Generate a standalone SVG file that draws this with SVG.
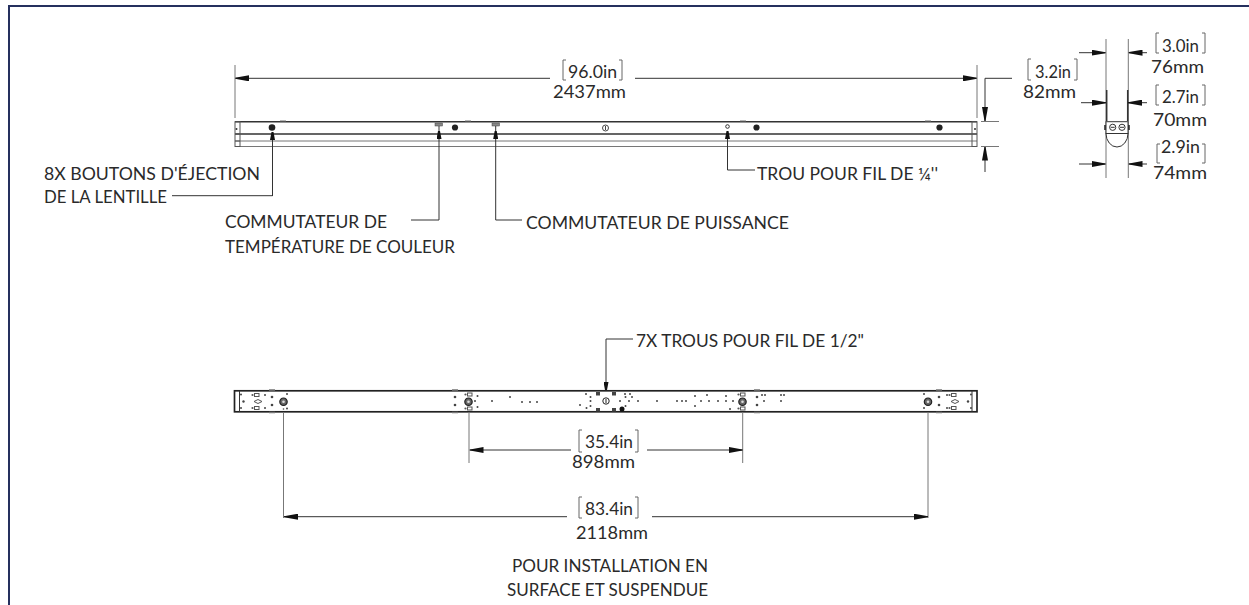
<svg xmlns="http://www.w3.org/2000/svg" width="1249" height="605" viewBox="0 0 1249 605">
<style>
text{font-family:"Lato","Liberation Sans",sans-serif;font-size:16.500px;fill:#2a2a2a}
.d{font-size:18px}
.l{fill:none;stroke:#333;stroke-width:1}
.br{fill:none;stroke:#666;stroke-width:1}
.b{fill:none;stroke:#333;stroke-width:1.500}
.t{fill:none;stroke:#777;stroke-width:1}
.k{fill:none;stroke:#333;stroke-width:1}
.f{fill:#222}
.g{fill:#444}
.e{fill:none;stroke:#777;stroke-width:1}
</style>
<defs>
<marker id="a" viewBox="0 0 14 6" refX="14" refY="3" markerWidth="14" markerHeight="6" markerUnits="userSpaceOnUse" orient="auto"><path d="M0 0L14 2.500V3.500L0 6z" fill="#111"/></marker>
<marker id="c" viewBox="0 0 8 5" refX="8" refY="2.500" markerWidth="8" markerHeight="5" markerUnits="userSpaceOnUse" orient="auto"><path d="M0 0L8 1.500V3.500L0 5z" fill="#111"/></marker>
<g id="screw"><circle r="3.700" fill="#666" stroke="#222" stroke-width="1.200"/><circle r="1.300" fill="#ddd"/></g>
<g id="plate"><circle cx="-3.500" r="1.100" fill="#555"/><rect x="-1.500" y="-1.500" width="4.500" height="3" fill="none" stroke="#555"/></g>
</defs>
<rect width="1249" height="605" fill="#fff"/>
<path id="frame" d="M9 605V6H1249" fill="none" stroke="#25305e" stroke-width="2"/>
<g id="fixture-side">
<path class="b" d="M235 121.700H977M235 134H977"/>
<path class="t" d="M235 141H977M235 146.500H977"/>
<rect x="235" y="121.700" width="5" height="24.800" fill="none" stroke="#555"/>
<path d="M235 134H240M235 141H240" stroke="#555"/>
<rect x="972" y="121.700" width="5" height="24.800" fill="none" stroke="#555"/>
<circle cx="236.500" cy="129" r="1" fill="#333"/><circle cx="975" cy="129" r="1" fill="#333"/>
<path stroke="#999" d="M280 120.800h6M465 120.800h6M740 120.800h6M925 120.800h6"/>
<circle cx="272" cy="127.500" r="3.300" class="f"/><circle cx="455" cy="127.500" r="3.100" class="f"/><circle cx="756.500" cy="127.500" r="3.100" class="f"/><circle cx="939.500" cy="127.500" r="3.100" class="f"/>
<circle cx="605.500" cy="128" r="3" fill="none" stroke="#444"/><path d="M605.500 126v4" stroke="#444"/>
<rect x="435" y="123" width="7.500" height="3" fill="#888" stroke="#444" stroke-width=".5"/><rect x="492" y="123" width="7.500" height="3" fill="#888" stroke="#444" stroke-width=".5"/>
<path stroke="#333" d="M439 126V131M495.700 126V131"/>
<circle cx="727.500" cy="126.500" r="1.800" fill="none" stroke="#333"/>
</g>
<g id="fixture-end">
<path class="e" d="M1106 39V178M1128.300 39V178"/>
<path class="b" d="M1106.700 90V121M1127.700 90V121"/>
<rect x="1106" y="121.700" width="22" height="11.800" fill="#fff" stroke="#333"/>
<path d="M1106 133.500A11 13.500 0 0 0 1128 133.500z" fill="#fff" stroke="#333"/>
<circle cx="1112.700" cy="127.300" r="3.100" fill="none" stroke="#333"/><circle cx="1122" cy="127.300" r="3.100" fill="none" stroke="#333"/>
<path d="M1110.700 127.300h4M1120 127.300h4" stroke="#333"/>
<path stroke="#222" stroke-width="1.500" d="M1105 125v5M1129 125v5"/>
</g>
<g id="fixture-top">
<rect x="234.500" y="390.800" width="742.500" height="21" fill="none" stroke="#222" stroke-width="1.700"/>
<path class="k" d="M239.500 390.800V411.800M972 390.800V411.800"/>
<g class="g">
<circle cx="241" cy="394.500" r="1"/><circle cx="241" cy="408" r="1"/><circle cx="243.500" cy="401.500" r="1.200"/><circle cx="265" cy="395" r="1"/><circle cx="265" cy="408" r="1"/><circle cx="272" cy="397" r="1.300"/><circle cx="272" cy="405" r="1.300"/><circle cx="287" cy="394" r="1"/><circle cx="283.500" cy="409" r=".8"/><circle cx="287" cy="408.500" r="1"/>
<circle cx="455" cy="397" r="1.300"/><circle cx="455" cy="405" r="1.300"/><circle cx="477.500" cy="396" r="1"/><circle cx="477.500" cy="407" r="1"/><circle cx="475" cy="401" r="1"/><circle cx="492" cy="401" r="1"/><circle cx="510" cy="397" r="1"/><circle cx="522" cy="402" r="1"/><circle cx="530" cy="402" r="1"/><circle cx="537" cy="402" r="1"/>
<circle cx="586" cy="394" r="1"/><circle cx="590.500" cy="397" r="1"/><circle cx="590.500" cy="401" r="1"/><circle cx="580" cy="405" r="1"/><circle cx="586.500" cy="408" r="1"/><circle cx="590.500" cy="406" r="1"/>
<rect x="596" y="392" width="4" height="3.500"/><rect x="612" y="392" width="4" height="3.500"/><rect x="596" y="408" width="4" height="3.500"/><rect x="612" y="408" width="4" height="3.500"/><circle cx="622" cy="409" r="2.500" fill="#111"/><circle cx="625.500" cy="406" r="1"/>
<circle cx="625" cy="394" r="1"/><circle cx="630" cy="394" r="1"/><circle cx="625.500" cy="397" r="1"/><circle cx="632" cy="397" r="1"/><circle cx="620" cy="401" r="1"/><circle cx="629" cy="401" r="1"/><circle cx="638" cy="401" r="1"/><circle cx="657" cy="401" r="1"/>
<circle cx="677" cy="401" r="1"/><circle cx="682" cy="401" r="1"/><circle cx="686" cy="401" r="1"/><circle cx="695" cy="396" r="1"/><circle cx="695" cy="406" r="1"/><circle cx="701" cy="401" r="1"/><circle cx="707" cy="395" r="1"/><circle cx="709" cy="401" r="1"/><circle cx="718" cy="401" r="1"/><circle cx="726" cy="396" r="1"/><circle cx="726" cy="401" r="1"/><circle cx="730" cy="409" r="1"/><circle cx="733" cy="401" r="1"/>
<circle cx="757" cy="397" r="1.300"/><circle cx="757" cy="405" r="1.300"/><circle cx="762" cy="395" r="1"/><circle cx="765" cy="395" r="1"/><circle cx="764" cy="401" r="1"/><circle cx="781" cy="395" r="1"/><circle cx="784" cy="395" r="1"/><circle cx="781" cy="401" r="1"/>
<circle cx="924" cy="394" r="1"/><circle cx="924" cy="408" r="1"/><circle cx="939" cy="397" r="1.300"/><circle cx="939" cy="405" r="1.300"/><circle cx="947" cy="395" r="1"/><circle cx="947" cy="408" r="1"/><circle cx="968" cy="401.500" r="1.200"/><circle cx="971" cy="394.500" r="1"/><circle cx="971" cy="408" r="1"/>
</g>
<use href="#screw" x="283.500" y="401.700"/><use href="#screw" x="468.500" y="401.700"/><use href="#screw" x="742.500" y="401.700"/><use href="#screw" x="928" y="401.700"/>
<circle cx="606" cy="401" r="3.200" fill="#fff" stroke="#222"/><path d="M606 399v4" stroke="#222"/>
<use href="#plate" x="256" y="395"/><use href="#plate" x="256" y="408"/><use href="#plate" x="469" y="394.500"/><use href="#plate" x="469" y="408.500"/><use href="#plate" x="742" y="394.500"/><use href="#plate" x="742" y="408.500"/><use href="#plate" x="953" y="395"/><use href="#plate" x="953" y="408"/>
<path fill="none" stroke="#555" d="M254 401.500l4-2 4 2-4 2zM951 401.500l4-2 4 2-4 2z"/>
<path stroke="#777" stroke-width="1.500" d="M269 390h6M269 412.500h6M452 390h6M452 412.500h6M754 390h6M754 412.500h6M936 390h6M936 412.500h6"/>
</g>
<g id="connectors">
<g class="l">
<path marker-end="url(#a)" d="M550 78.300H235"/><path marker-end="url(#a)" d="M635 78.300H977"/>
<path class="e" d="M235 65V118M977 65V118"/>
<path marker-end="url(#a)" d="M1012 78.300H985V121"/><path marker-end="url(#a)" d="M985 172V146.500"/><path class="e" d="M981 121.500H999M981 146.500H999"/>
<path marker-end="url(#a)" d="M1079 52.700H1105.500"/><path marker-end="url(#a)" d="M1147 52.700H1128.500"/>
<path marker-end="url(#a)" d="M1081 102.700H1106"/><path marker-end="url(#a)" d="M1147 102.700H1128"/>
<path marker-end="url(#a)" d="M1079 164H1105.500"/><path marker-end="url(#a)" d="M1147 164H1128.500"/>
<path marker-end="url(#c)" d="M272.500 196V132"/><path d="M272.500 195.700H172"/>
<path marker-end="url(#c)" d="M439 220V131"/><path d="M439 220H411"/>
<path marker-end="url(#c)" d="M495.700 220V131"/><path d="M495.700 220H522"/>
<path marker-end="url(#c)" d="M727.500 170V131"/><path d="M727.500 170H755"/>
<path marker-end="url(#c)" d="M606 339V390"/><path d="M606 339H633"/>
<path class="e" d="M283.500 412V518M469 412V463M742.700 412V463M928 412V518"/>
<path marker-end="url(#a)" d="M571 450H469.500"/><path marker-end="url(#a)" d="M647 450H742.500"/>
<path marker-end="url(#a)" d="M567 516.700H284"/><path marker-end="url(#a)" d="M652 516.700H928"/>
</g>
</g>
<g id="labels">
<text x="44" y="180" textLength="216" lengthAdjust="spacingAndGlyphs">8X BOUTONS D'ÉJECTION</text>
<text x="44" y="203" textLength="123" lengthAdjust="spacingAndGlyphs">DE LA LENTILLE</text>
<text x="225" y="228" textLength="162" lengthAdjust="spacingAndGlyphs">COMMUTATEUR DE</text>
<text x="225" y="253" textLength="230" lengthAdjust="spacingAndGlyphs">TEMPÉRATURE DE COULEUR</text>
<text x="526" y="229" textLength="263" lengthAdjust="spacingAndGlyphs">COMMUTATEUR DE PUISSANCE</text>
<text x="757" y="180" textLength="181" lengthAdjust="spacingAndGlyphs">TROU POUR FIL DE ¼''</text>
<text x="636" y="347" textLength="228" lengthAdjust="spacingAndGlyphs">7X TROUS POUR FIL DE 1/2"</text>
<text x="512" y="572" textLength="196" lengthAdjust="spacingAndGlyphs">POUR INSTALLATION EN</text>
<text x="507" y="596" textLength="201" lengthAdjust="spacingAndGlyphs">SURFACE ET SUSPENDUE</text>
<text class="d" x="568" y="78" textLength="49" lengthAdjust="spacingAndGlyphs">96.0in</text><text class="d" x="553" y="98" textLength="73" lengthAdjust="spacingAndGlyphs">2437mm</text>
<path class="br" d="M566 60h-3v20h3M619 60h3v20h-3"/>
<text class="d" x="1035" y="78" textLength="36" lengthAdjust="spacingAndGlyphs">3.2in</text><text class="d" x="1023" y="98" textLength="53" lengthAdjust="spacingAndGlyphs">82mm</text>
<path class="br" d="M1031 59h-3v21h3M1074 59h3v21h-3"/>
<text class="d" x="1162" y="52" textLength="37" lengthAdjust="spacingAndGlyphs">3.0in</text><text class="d" x="1151" y="73" textLength="53" lengthAdjust="spacingAndGlyphs">76mm</text>
<path class="br" d="M1159 33h-3v20h3M1202 33h3v20h-3"/>
<text class="d" x="1162" y="103" textLength="37" lengthAdjust="spacingAndGlyphs">2.7in</text><text class="d" x="1153" y="126" textLength="54" lengthAdjust="spacingAndGlyphs">70mm</text>
<path class="br" d="M1159 85h-3v20h3M1202 85h3v20h-3"/>
<text class="d" x="1161" y="153" textLength="39" lengthAdjust="spacingAndGlyphs">2.9in</text><text class="d" x="1153" y="179" textLength="54" lengthAdjust="spacingAndGlyphs">74mm</text>
<path class="br" d="M1160 144h-3v19h3M1202 144h3v19h-3"/>
<text class="d" x="585" y="448" textLength="48" lengthAdjust="spacingAndGlyphs">35.4in</text><text class="d" x="572" y="468" textLength="63" lengthAdjust="spacingAndGlyphs">898mm</text>
<path class="br" d="M582 430h-3v22h3M635 430h3v22h-3"/>
<text class="d" x="585" y="515" textLength="48" lengthAdjust="spacingAndGlyphs">83.4in</text><text class="d" x="576" y="539" textLength="72" lengthAdjust="spacingAndGlyphs">2118mm</text>
<path class="br" d="M582 497h-3v21h3M635 497h3v21h-3"/>
</g>
</svg>
